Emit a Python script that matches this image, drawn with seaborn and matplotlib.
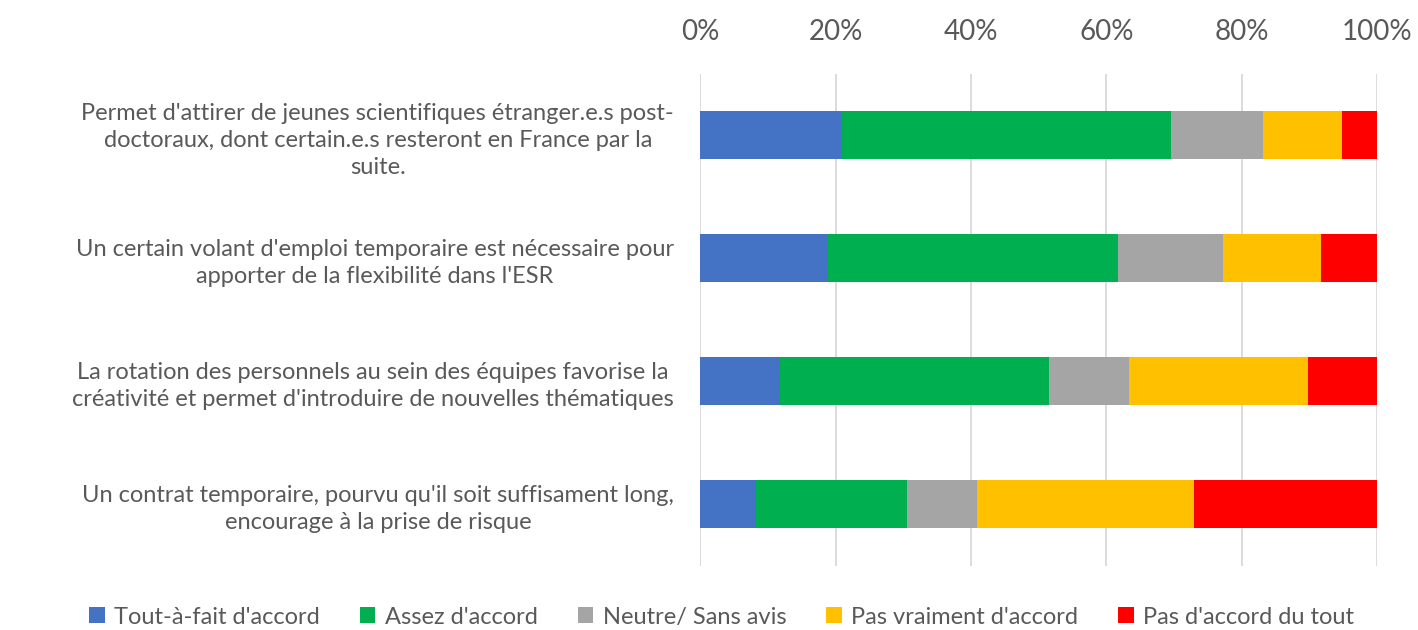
import pandas as pd
import matplotlib.pyplot as plt
import seaborn as sns
from matplotlib.patches import Patch
from matplotlib.ticker import PercentFormatter

statements = [
    "Permet d'attirer de jeunes scientifiques étranger.e.s post-\ndoctoraux, dont certain.e.s resteront en France par la\nsuite.",
    "Un certain volant d'emploi temporaire est nécessaire pour\napporter de la flexibilité dans l'ESR",
    "La rotation des personnels au sein des équipes favorise la\ncréativité et permet d'introduire de nouvelles thématiques",
    "Un contrat temporaire, pourvu qu'il soit suffisament long,\nencourage à la prise de risque",
]
levels = ["Tout-à-fait d'accord", "Assez d'accord", "Neutre/ Sans avis",
          "Pas vraiment d'accord", "Pas d'accord du tout"]

# share of answers (%) per statement
tout_a_fait = [20.8, 18.9, 11.7, 8.2]
assez = [48.8, 42.9, 39.8, 22.4]
neutre = [13.5, 15.4, 11.8, 10.3]
pas_vraiment = [11.8, 14.5, 26.5, 32.0]
pas_du_tout = [5.1, 8.3, 10.2, 27.1]

colors = ["#4472C4", "#00B050", "#A5A5A5", "#FFC000", "#FF0000"]

df = pd.DataFrame({"statement": statements,
                   levels[0]: tout_a_fait, levels[1]: assez, levels[2]: neutre,
                   levels[3]: pas_vraiment, levels[4]: pas_du_tout})
vals = df[levels]
df[levels] = vals.div(vals.sum(axis=1), axis=0) * 100
cum = df[levels].cumsum(axis=1)

sns.set_style("white")
plt.rcParams['font.family'] = ['Lato', 'DejaVu Sans']
txt = "#595959"

fig = plt.figure(figsize=(14.18, 6.3), dpi=100)
ax = fig.add_axes([0.494, 0.102, 0.477, 0.781])

# stacked bars: draw cumulative totals from the largest down
for lev, col in reversed(list(zip(levels, colors))):
    sns.barplot(x=cum[lev], y=df["statement"], color=col, width=0.39,
                saturation=1, orient="h", ax=ax, linewidth=0)

ax.set_xlim(0, 100)
ax.set_xticks([0, 20, 40, 60, 80, 100])
ax.xaxis.set_major_formatter(PercentFormatter(decimals=0))
ax.xaxis.tick_top()
ax.grid(axis="x", color="#D9D9D9", linewidth=1.3)
ax.set_axisbelow(True)
for s in ax.spines.values():
    s.set_visible(False)
ax.set_xlabel("")
ax.set_ylabel("")
ax.tick_params(axis="x", length=0, pad=21, labelsize=20, labelcolor=txt)
ax.tick_params(axis="y", length=0, pad=19, labelsize=17, labelcolor=txt)
for lab in ax.get_yticklabels():
    lab.set_multialignment("center")
    lab.set_linespacing(1.35)

handles = [Patch(facecolor=c, edgecolor="none") for c in colors]
fig.legend(handles, levels, loc="lower center", bbox_to_anchor=(0.509, -0.03),
           ncol=5, frameon=False, fontsize=17, labelcolor=txt,
           handlelength=0.65, handleheight=0.65, handletextpad=0.4, columnspacing=1.7)

fig.savefig("out.png", dpi=100)
